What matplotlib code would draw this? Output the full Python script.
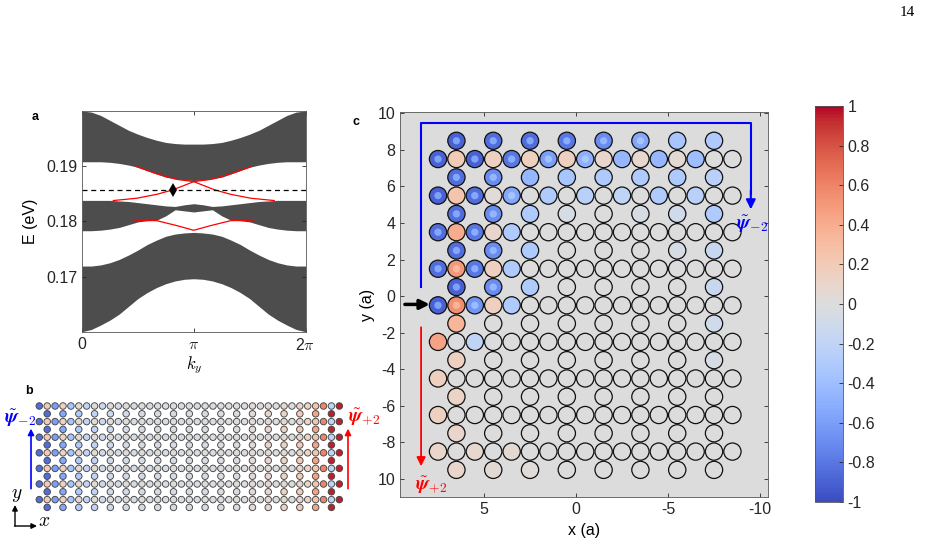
import numpy as np
import matplotlib.pyplot as plt
from matplotlib.patches import Circle
from matplotlib.collections import PatchCollection
from matplotlib.colors import Normalize
from matplotlib.cm import ScalarMappable

plt.rcParams['font.family'] = ['Liberation Sans', 'DejaVu Sans']
plt.rcParams['mathtext.fontset'] = 'cm'
plt.rcParams['axes.unicode_minus'] = False
plt.rcParams['font.size'] = 11.5

# ---------------- panel a: band edges (k in units of pi, E in eV), 0..pi, mirrored about pi
k_half = [0, 1/12, 1/6, 1/4, 1/3, 5/12, 1/2, 7/12, 2/3, 3/4, 5/6, 11/12, 1]
top_hi_h = [0.2000, 0.1998, 0.1992, 0.1983, 0.1974, 0.1965, 0.1958, 0.1952, 0.1947, 0.1943, 0.1941, 0.1940, 0.1940]
top_lo_h = [0.1908, 0.1908, 0.1908, 0.1907, 0.1905, 0.1902, 0.1898, 0.1892, 0.1886, 0.1880, 0.1877, 0.1875, 0.1874]
mid_hi_h = [0.1838, 0.1838, 0.1838, 0.1838, 0.1837, 0.1836, 0.1834, 0.1832, 0.1830, 0.1828, 0.1827, 0.1830, 0.1832]
mid_lo_h = [0.1783, 0.1783, 0.1784, 0.1786, 0.1789, 0.1794, 0.1799, 0.1801, 0.1802, 0.1810, 0.1821, 0.1819, 0.1817]
bot_hi_h = [0.1719, 0.1719, 0.1721, 0.1725, 0.1731, 0.1739, 0.1748, 0.1758, 0.1766, 0.1773, 0.1777, 0.1779, 0.1780]
bot_lo_h = [0.1600, 0.1604, 0.1612, 0.1621, 0.1632, 0.1646, 0.1660, 0.1671, 0.1680, 0.1687, 0.1692, 0.1695, 0.1696]

# edge states (red)
edge_a_k = [0.28, 0.49, 0.67, 0.81, 0.9, 1.0, 1.15, 1.33, 1.51]
edge_a_E = [0.18377, 0.18419, 0.1849, 0.18569, 0.1864, 0.1872, 0.1876, 0.1886, 0.1899]
edge_b_k = [0.49, 0.67, 0.85, 1.0, 1.1, 1.19, 1.33, 1.51, 1.72]
edge_b_E = [0.1899, 0.1886, 0.1876, 0.1872, 0.1864, 0.18569, 0.1849, 0.18419, 0.18377]
edge_c_k = [0.45, 0.55, 0.67, 0.85, 1.0, 1.15, 1.33, 1.45, 1.55]
edge_c_E = [0.1800, 0.18020, 0.18012, 0.17922, 0.17838, 0.17922, 0.18012, 0.18020, 0.1800]
marker_k, marker_E = 0.81, 0.18569

# ---------------- panel b: field on strip (columns 0..38, rows 0..13)
b_full_cols = np.arange(39)
b_sparse_cols = np.arange(1, 38, 2)
b_full_rows = [0, 2, 4, 6, 8, 10, 12]
b_sparse_rows = [1, 3, 5, 7, 9, 11, 13]
b_full_vals = [-0.85, 0.2, -0.6, 0.12, -0.35, 0.05, -0.2, 0.02, -0.12, 0.0,
               -0.08, 0.0, -0.06, 0.0, -0.05, 0.0, -0.05, 0.0, -0.04, 0.0,
               -0.04, 0.0, -0.03, 0.0, -0.03, 0.02, -0.02, 0.03, 0.0, 0.05,
               0.0, 0.07, 0.0, 0.1, 0.12, 0.25, 0.6, -0.2, 0.95]
b_sparse_vals = [-0.85, -0.55, -0.3, -0.2, -0.1, -0.08, -0.06, -0.05, -0.05, -0.04,
                 -0.04, -0.03, -0.02, 0.03, 0.08, 0.12, 0.2, 0.45, 0.95]

# ---------------- panel c: field on corner lattice
c_full_x = np.arange(7.5, -9.0, -1.0)      # 17 sites
c_sparse_x = np.arange(6.5, -8.0, -2.0)    # 8 sites
c_full_y = [7.5, 5.5, 3.5, 1.5, -0.5, -2.5, -4.5, -6.5, -8.5]
c_sparse_y = [8.5, 6.5, 4.5, 2.5, 0.5, -1.5, -3.5, -5.5, -7.5, -9.5]
c_full_vals = [
    [-0.9, 0.2, -0.9, 0.15, -0.8, 0.15, -0.6, 0.15, -0.5, 0.1, -0.45, 0.08, -0.45, 0.05, -0.4, 0, 0],
    [-0.9, 0.25, -0.85, 0.03, -0.55, 0, -0.3, 0, -0.25, 0, -0.2, 0, -0.3, 0, -0.25, 0, 0],
    [-0.85, 0.4, -0.8, 0.1, -0.3, 0, 0, 0, 0, 0, 0, 0, 0, 0, 0, 0, 0],
    [-0.85, 0.5, -0.8, 0.15, -0.3, 0, 0, 0, 0, 0, 0, 0, 0, 0, 0, 0, 0],
    [-0.9, 0.55, -0.65, 0.15, -0.3, 0, 0, 0, 0, 0, 0, 0, 0, 0, 0, 0, 0],
    [0.45, -0.02, -0.2, 0, 0, 0, 0, 0, 0, 0, 0, 0, 0, 0, 0, 0, 0],
    [0.15, 0, 0, 0, 0, 0, 0, 0, 0, 0, 0, 0, 0, 0, 0, 0, 0],
    [0.15, 0, 0, 0, 0, 0, 0, 0, 0, 0, 0, 0, 0, 0, 0, 0, 0],
    [0.1, 0, 0.08, 0, 0.05, 0, 0, 0, 0, 0, 0, 0, 0, 0, 0, 0, 0],
]
c_sparse_vals = [
    [-0.9, -0.85, -0.85, -0.8, -0.7, -0.55, -0.35, -0.3],
    [-0.85, -0.7, -0.45, -0.35, -0.3, -0.3, -0.3, -0.25],
    [-0.85, -0.7, -0.3, -0.05, 0, -0.05, -0.1, -0.3],
    [-0.85, -0.7, -0.3, 0, 0, 0, -0.05, -0.15],
    [-0.9, -0.7, -0.3, 0, 0, 0, 0, -0.15],
    [0.35, 0, 0, 0, 0, 0, 0, -0.1],
    [0.15, 0, 0, 0, 0, 0, 0, -0.05],
    [0.12, 0, 0, 0, 0, 0, 0, 0],
    [0.1, 0, 0, 0, 0, 0, 0, 0],
    [0.1, 0.05, 0.03, 0, 0, 0, 0, 0],
]
c_ylabels = ['10', '8', '6', '4', '2', '0', '-2', '-4', '-6', '-8', '10']
cb_ticks = [-1, -0.8, -0.6, -0.4, -0.2, 0, 0.2, 0.4, 0.6, 0.8, 1]

cmap = plt.get_cmap('coolwarm')
norm = Normalize(-1, 1)
W, H = 927, 555
fig = plt.figure(figsize=(W / 100, H / 100), dpi=100)

def fig_rect(x0, y0, x1, y1):
    return [x0 / W, 1 - y1 / H, (x1 - x0) / W, (y1 - y0) / H]

def mirror(h):
    return list(h) + list(h[-2::-1])

# ---------------- panel a
ax = fig.add_axes(fig_rect(82, 111, 305.5, 331.7))
kx = np.array(k_half + [2 - k for k in k_half[-2::-1]]) * np.pi
band = '#4d4d4d'
ax.fill_between(kx, mirror(top_lo_h), mirror(top_hi_h), color=band, lw=0)
ax.fill_between(kx, mirror(mid_lo_h), mirror(mid_hi_h), color=band, lw=0)
ax.fill_between(kx, mirror(bot_lo_h), mirror(bot_hi_h), color=band, lw=0)
for kk, ee in [(edge_a_k, edge_a_E), (edge_b_k, edge_b_E), (edge_c_k, edge_c_E)]:
    ax.plot(np.array(kk) * np.pi, ee, color='red', lw=0.9)
ax.axhline(marker_E, color='black', ls='--', lw=0.9, dashes=(4, 3))
ax.plot(marker_k * np.pi, marker_E, marker='d', color='black', ms=7, mew=0)
ax.set_xlim(0, 2 * np.pi)
ax.set_ylim(0.16, 0.2)
ax.set_xticks([0, np.pi, 2 * np.pi])
ax.set_xticklabels(['0', r'$\pi$', r'2$\pi$'])
ax.set_yticks([0.17, 0.18, 0.19])
ax.tick_params(direction='in', length=3, top=True, right=True, colors='#262626', width=0.6)
for s in ax.spines.values():
    s.set_linewidth(0.6)
    s.set_color('#555555')
ax.set_ylabel('E (eV)', labelpad=6)
ax.set_xlabel(r'$k_y$', fontsize=12, labelpad=1)

# ---------------- panel b
col_px, row_px = 7.895, 7.8
x0c, y0r = 39.3, 406.0
axb = fig.add_axes(fig_rect(0, y0r - 3 * row_px, x0c + 43 * col_px, y0r + 15 * row_px))
axb.set_xlim(-x0c / col_px, 43)
axb.set_ylim(15, -3)
axb.axis('off')
for r in b_full_rows:
    axb.scatter(b_full_cols, [r] * len(b_full_cols), c=b_full_vals, cmap=cmap, norm=norm,
                s=22, edgecolors='#454545', linewidths=0.65, clip_on=False)
for r in b_sparse_rows:
    axb.scatter(b_sparse_cols, [r] * len(b_sparse_cols), c=b_sparse_vals, cmap=cmap, norm=norm,
                s=22, edgecolors='#454545', linewidths=0.65, clip_on=False)
axb.annotate('', xy=(-1.05, 2.9), xytext=(-1.05, 10.6),
             arrowprops=dict(arrowstyle='-|>', color='blue', lw=1.2, mutation_scale=9,
                             shrinkA=0, shrinkB=0))
axb.annotate('', xy=(39.1, 2.9), xytext=(39.1, 10.6),
             arrowprops=dict(arrowstyle='-|>', color='red', lw=1.2, mutation_scale=9,
                             shrinkA=0, shrinkB=0))
axb.text(-2.4, 1.6, r'$\tilde{\boldsymbol{\psi}}_{\mathbf{-2}}$', color='blue',
         ha='center', va='center', fontsize=14)
axb.text(41.1, 1.4, r'$\tilde{\boldsymbol{\psi}}_{\mathbf{+2}}$', color='red',
         ha='center', va='center', fontsize=14)

# coordinate indicator
axb.annotate('', xy=(15 / W, 1 - 505 / H), xytext=(15 / W, 1 - 526 / H),
             xycoords='figure fraction', textcoords='figure fraction',
             arrowprops=dict(arrowstyle='-|>', color='black', lw=1.0, mutation_scale=8,
                             shrinkA=0, shrinkB=0))
axb.annotate('', xy=(37 / W, 1 - 526 / H), xytext=(14.5 / W, 1 - 526 / H),
             xycoords='figure fraction', textcoords='figure fraction',
             arrowprops=dict(arrowstyle='-|>', color='black', lw=1.0, mutation_scale=8,
                             shrinkA=0, shrinkB=0))
fig.text(17 / W, 1 - 496 / H, r'$y$', fontsize=14, ha='center', va='center')
fig.text(44 / W, 1 - 522 / H, r'$x$', fontsize=14, ha='center', va='center')

# ---------------- panel c
axc = fig.add_axes(fig_rect(400.3, 111.7, 768.3, 497.3))
axc.set_facecolor(cmap(0.5))
patches, vals, inner, inner_vals = [], [], [], []
for ys, xs, table in [(c_full_y, c_full_x, c_full_vals), (c_sparse_y, c_sparse_x, c_sparse_vals)]:
    for y, row in zip(ys, table):
        for x, v in zip(xs, row):
            patches.append(Circle((x, y), 0.47))
            vals.append(v)
            if abs(v) >= 0.5:
                inner.append(Circle((x, y), 0.2))
                inner_vals.append(0.65 * v)
pc = PatchCollection(patches, cmap=cmap, norm=norm, edgecolor='#111111', linewidth=0.9)
pc.set_array(np.array(vals))
axc.add_collection(pc)
pci = PatchCollection(inner, cmap=cmap, norm=norm, edgecolor='none')
pci.set_array(np.array(inner_vals))
axc.add_collection(pci)
axc.set_xlim(9.55, -10.45)
axc.set_ylim(-11.0, 10.09)
axc.set_xticks([5, 0, -5, -10])
axc.set_yticks(np.arange(10, -11, -2))
axc.set_yticklabels(c_ylabels)
axc.tick_params(direction='in', length=3, top=True, right=True, colors='#262626', width=0.6)
for s in axc.spines.values():
    s.set_linewidth(0.6)
    s.set_color('#555555')
axc.set_xlabel('x (a)', labelpad=4)
axc.set_ylabel('y (a)', labelpad=2)

# paths
axc.plot([8.42, 8.42, -9.5, -9.5], [0.5, 9.45, 9.45, 5.6], color='blue', lw=1.5)
axc.annotate('', xy=(-9.5, 4.75), xytext=(-9.5, 5.8),
             arrowprops=dict(arrowstyle='-|>', color='blue', lw=1.5, mutation_scale=14,
                             shrinkA=0, shrinkB=0))
axc.text(-9.55, 3.95, r'$\tilde{\boldsymbol{\psi}}_{\mathbf{-2}}$', color='blue',
         ha='center', va='center', fontsize=14)
axc.annotate('', xy=(8.42, -9.3), xytext=(8.42, -1.7),
             arrowprops=dict(arrowstyle='-|>', color='red', lw=1.3, mutation_scale=13,
                             shrinkA=0, shrinkB=0))
axc.text(7.85, -10.3, r'$\tilde{\boldsymbol{\psi}}_{\mathbf{+2}}$', color='red',
         ha='center', va='center', fontsize=14)
axc.annotate('', xy=(7.95, -0.45), xytext=(9.3, -0.45),
             arrowprops=dict(arrowstyle='-|>', color='black', lw=2.5, mutation_scale=14,
                             shrinkA=0, shrinkB=0), annotation_clip=False)

# ---------------- colorbar
cax = fig.add_axes(fig_rect(815, 106, 842.7, 502))
cb = fig.colorbar(ScalarMappable(norm=norm, cmap=cmap), cax=cax, ticks=cb_ticks)
cb.ax.set_yticklabels([f'{t:g}' for t in cb_ticks])
cb.ax.tick_params(direction='in', length=3, colors='#262626', width=0.6)
cb.outline.set_linewidth(0.6)
cb.outline.set_edgecolor('#555555')

# labels
fig.text(35 / W, 1 - 117 / H, 'a', weight='bold', fontsize=9, ha='center', va='center')
fig.text(29 / W, 1 - 391 / H, 'b', weight='bold', fontsize=9, ha='center', va='center')
fig.text(356 / W, 1 - 122 / H, 'c', weight='bold', fontsize=9, ha='center', va='center')
fig.text(907 / W, 1 - 12 / H, '14', family=['Liberation Serif', 'DejaVu Serif'],
         fontsize=11, ha='center', va='center')

fig.savefig('out.png', dpi=100)
